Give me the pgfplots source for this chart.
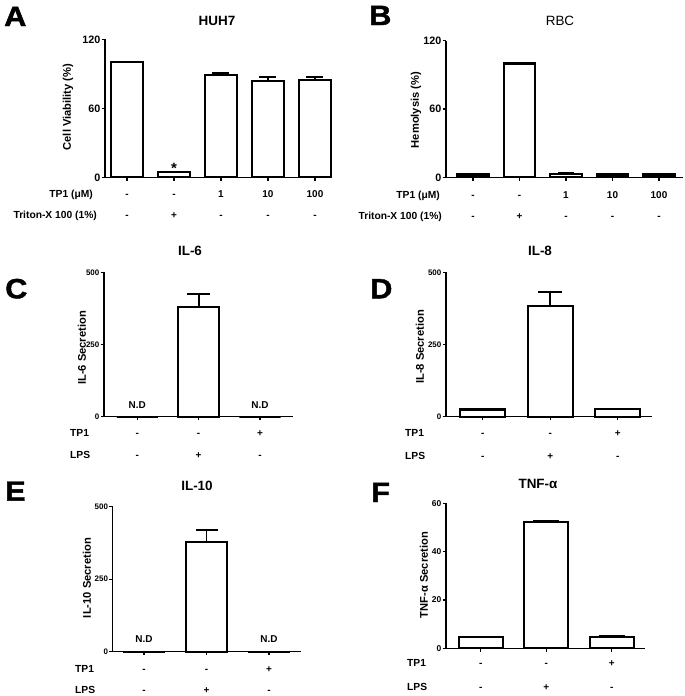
\documentclass[border=0pt]{standalone}
\usepackage{fontspec}
\setmainfont{Liberation Sans}
\newfontfamily\heavyfont{Liberation Sans}[UprightFont={* Bold}, FakeBold=1.5]
\usepackage{pgfplots}
\pgfplotsset{compat=1.18}
\newcommand{\fs}[1]{\fontsize{#1}{#1}\selectfont}
\pgfplotsset{
  gp/.style={
    scale only axis, anchor=south west, clip=false,
    axis x line=bottom, axis y line=left,
    axis line style={-, line width=1.4bp, black},
    ymin=0,
    ybar, bar width=0.67,
    tick align=outside,
    major tick length=3.5bp,
    tick style={line width=1.2bp, black},
    xticklabels={},
    /pgf/number format/assume math mode=true,
    yticklabel style={font=\fs{10.8}\bfseries, inner sep=1bp},
  },
  bars/.style={draw=black, fill=white, line width=2.1bp,
    error bars/.cd, y dir=plus, y explicit,
    error bar style={line width=1.9bp, black},
    error mark options={rotate=90, mark size=#1, line width=1.9bp, black}},
}
\tikzset{tl/.style={font=\fs{10}\bfseries, inner sep=0pt, anchor=base},
  rl/.style={font=\fs{10.3}\bfseries, inner sep=0pt},
  ttl/.style={font=\fs{13.5}\bfseries, inner sep=0pt, anchor=base},
  yl/.style={font=\fs{11.2}\bfseries, inner sep=0pt, rotate=90},
  nd/.style={font=\fs{10}\bfseries, inner sep=0pt, anchor=base},
  pl/.style={font=\fs{28}\heavyfont, inner sep=0pt, anchor=base west, xscale=1.1}}
\begin{document}
\begin{tikzpicture}
\path[use as bounding box] (0,0) rectangle (685bp,-696bp);
% ---------------- A
\begin{axis}[gp, at={(105bp,-177.3bp)}, width=227bp, height=138bp,
  xmin=-0.468, xmax=4.362, ymax=120, ytick={0,60,120}, xtick={0,1,2,3,4}]
\addplot[bars=8.5bp] coordinates {(0,100) +- (0,0) (1,4.5) +- (0,0) (2,89) +- (0,2) (3,84) +- (0,3) (4,85) +- (0,2.5)};
\node[tl] at (axis cs:0,0) [yshift=-20.4bp] {-};
\node[tl] at (axis cs:1,0) [yshift=-20.4bp] {-};
\node[tl] at (axis cs:2,0) [yshift=-20.4bp] {1};
\node[tl] at (axis cs:3,0) [yshift=-20.4bp] {10};
\node[tl] at (axis cs:4,0) [yshift=-20.4bp] {100};
\node[tl] at (axis cs:0,0) [yshift=-41bp] {-};
\node[tl] at (axis cs:1,0) [yshift=-41bp] {+};
\node[tl] at (axis cs:2,0) [yshift=-41bp] {-};
\node[tl] at (axis cs:3,0) [yshift=-41bp] {-};
\node[tl] at (axis cs:4,0) [yshift=-41bp] {-};
\node[font=\fs{15}\bfseries, inner sep=0pt, anchor=base] at (axis cs:1,0) [yshift=3.5bp] {*};
\end{axis}
\node[rl, anchor=base east] at (93bp,-197.7bp) {TP1 (μM)};
\node[rl, anchor=base east] at (97bp,-218.3bp) {Triton-X 100 (1\%)};
\node[ttl] at (217bp,-25bp) {HUH7};
\node[yl] at (68bp,-107bp) {Cell Viability (\%)};
\node[pl] at (4bp,-26bp) {A};
% ---------------- B
\begin{axis}[gp, at={(446bp,-177.3bp)}, width=237bp, height=136.6bp,
  xmin=-0.581, xmax=4.516, ymax=120, ytick={0,60,120}, xtick={0,1,2,3,4}]
\addplot[bars=8bp] coordinates {(0,2.5) +- (0,0) (1,100) +- (0,0) (2,3) +- (0,1) (3,2.5) +- (0,0.5) (4,2.5) +- (0,0.7)};
\node[tl] at (axis cs:0,0) [yshift=-21bp] {-};
\node[tl] at (axis cs:1,0) [yshift=-21bp] {-};
\node[tl] at (axis cs:2,0) [yshift=-21bp] {1};
\node[tl] at (axis cs:3,0) [yshift=-21bp] {10};
\node[tl] at (axis cs:4,0) [yshift=-21bp] {100};
\node[tl] at (axis cs:0,0) [yshift=-41.7bp] {-};
\node[tl] at (axis cs:1,0) [yshift=-41.7bp] {+};
\node[tl] at (axis cs:2,0) [yshift=-41.7bp] {-};
\node[tl] at (axis cs:3,0) [yshift=-41.7bp] {-};
\node[tl] at (axis cs:4,0) [yshift=-41.7bp] {-};
\end{axis}
\node[rl, anchor=base east] at (440bp,-198.3bp) {TP1 (μM)};
\node[rl, anchor=base east] at (442bp,-219bp) {Triton-X 100 (1\%)};
\node[ttl, font=\fs{13.5}] at (560bp,-25bp) {RBC};
\node[yl] at (416bp,-110bp) {Hemolysis (\%)};
\node[pl] at (369bp,-25bp) {B};
% ---------------- C
\begin{axis}[gp, at={(104bp,-416.7bp)}, width=189bp, height=144.4bp,
  xmin=-0.543, xmax=2.538, ymax=500, ytick={0,250,500}, xtick={0,1,2},
  yticklabel style={font=\fs{8}\bfseries}]
\addplot[bars=11.5bp] coordinates {(0,0) +- (0,0) (1,379) +- (0,46) (2,0) +- (0,0)};
\node[tl] at (axis cs:0,0) [yshift=-19.3bp] {-};
\node[tl] at (axis cs:1,0) [yshift=-19.3bp] {-};
\node[tl] at (axis cs:2,0) [yshift=-19.3bp] {+};
\node[tl] at (axis cs:0,0) [yshift=-42bp] {-};
\node[tl] at (axis cs:1,0) [yshift=-42bp] {+};
\node[tl] at (axis cs:2,0) [yshift=-42bp] {-};
\node[nd] at (axis cs:0,0) [yshift=8.4bp] {N.D};
\node[nd] at (axis cs:2,0) [yshift=8.4bp] {N.D};
\end{axis}
\node[rl, anchor=base west] at (70bp,-436bp) {TP1};
\node[rl, anchor=base west] at (70bp,-458.7bp) {LPS};
\node[ttl] at (190bp,-255bp) {IL-6};
\node[yl] at (82bp,-348bp) {IL-6 Secretion};
\node[pl] at (5bp,-298.3bp) {C};
% ---------------- D
\begin{axis}[gp, at={(446bp,-416.7bp)}, width=206bp, height=144.4bp,
  xmin=-0.544, xmax=2.508, ymax=500, ytick={0,250,500}, xtick={0,1,2},
  yticklabel style={font=\fs{8}\bfseries}]
\addplot[bars=12bp] coordinates {(0,25) +- (0,3) (1,383) +- (0,49) (2,26) +- (0,2)};
\node[tl] at (axis cs:0,0) [yshift=-19.3bp] {-};
\node[tl] at (axis cs:1,0) [yshift=-19.3bp] {-};
\node[tl] at (axis cs:2,0) [yshift=-19.3bp] {+};
\node[tl] at (axis cs:0,0) [yshift=-42.3bp] {-};
\node[tl] at (axis cs:1,0) [yshift=-42.3bp] {+};
\node[tl] at (axis cs:2,0) [yshift=-42.3bp] {-};
\end{axis}
\node[rl, anchor=base west] at (405bp,-436bp) {TP1};
\node[rl, anchor=base west] at (405bp,-459bp) {LPS};
\node[ttl] at (540bp,-255bp) {IL-8};
\node[yl] at (420bp,-347bp) {IL-8 Secretion};
\node[pl] at (370bp,-298.3bp) {D};
% ---------------- E
\begin{axis}[gp, at={(112.7bp,-651.7bp)}, width=188.3bp, height=145bp,
  xmin=-0.501, xmax=2.512, ymax=500, ytick={0,250,500}, xtick={0,1,2},
  yticklabel style={font=\fs{8}\bfseries}]
\addplot[bars=11bp] coordinates {(0,0) +- (0,0) (1,379) +- (0,40) (2,0) +- (0,0)};
\node[tl] at (axis cs:0,0) [yshift=-20.6bp] {-};
\node[tl] at (axis cs:1,0) [yshift=-20.6bp] {-};
\node[tl] at (axis cs:2,0) [yshift=-20.6bp] {+};
\node[tl] at (axis cs:0,0) [yshift=-41.6bp] {-};
\node[tl] at (axis cs:1,0) [yshift=-41.6bp] {+};
\node[tl] at (axis cs:2,0) [yshift=-41.6bp] {-};
\node[nd] at (axis cs:0,0) [yshift=9bp] {N.D};
\node[nd] at (axis cs:2,0) [yshift=9bp] {N.D};
\end{axis}
\node[rl, anchor=base west] at (75bp,-672.3bp) {TP1};
\node[rl, anchor=base west] at (75bp,-693.3bp) {LPS};
\node[ttl] at (197bp,-490bp) {IL-10};
\node[yl] at (87bp,-578bp) {IL-10 Secretion};
\node[pl] at (5bp,-500.7bp) {E};
% ---------------- F
\begin{axis}[gp, at={(446bp,-648.3bp)}, width=199bp, height=145bp,
  xmin=-0.530, xmax=2.508, ymax=60, ytick={0,20,40,60}, xtick={0,1,2},
  yticklabel style={font=\fs{8.5}\bfseries}]
\addplot[bars=13bp] coordinates {(0,4.5) +- (0,0) (1,52.4) +- (0,0.5) (2,4.5) +- (0,0.5)};
\node[tl] at (axis cs:0,0) [yshift=-18.4bp] {-};
\node[tl] at (axis cs:1,0) [yshift=-18.4bp] {-};
\node[tl] at (axis cs:2,0) [yshift=-18.4bp] {+};
\node[tl] at (axis cs:0,0) [yshift=-41.7bp] {-};
\node[tl] at (axis cs:1,0) [yshift=-41.7bp] {+};
\node[tl] at (axis cs:2,0) [yshift=-41.7bp] {-};
\end{axis}
\node[rl, anchor=base west] at (407bp,-666.7bp) {TP1};
\node[rl, anchor=base west] at (407bp,-690bp) {LPS};
\node[ttl] at (538bp,-488.3bp) {TNF-α};
\node[yl] at (424bp,-575bp) {TNF-α Secretion};
\node[pl] at (371bp,-502bp) {F};
\end{tikzpicture}
\end{document}
